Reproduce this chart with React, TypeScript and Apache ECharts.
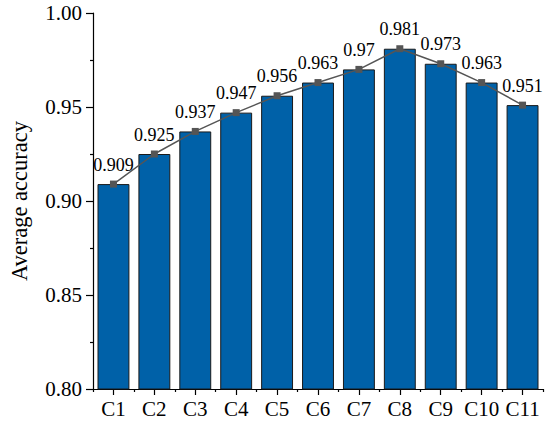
import React, { useEffect, useRef } from "react";
import * as echarts from "echarts";

const categories = ["C1", "C2", "C3", "C4", "C5", "C6", "C7", "C8", "C9", "C10", "C11"];
const accuracy = [0.909, 0.925, 0.937, 0.947, 0.956, 0.963, 0.97, 0.981, 0.973, 0.963, 0.951];
const yTicks = { min: 0.8, max: 1.0, interval: 0.05 };
const yName = "Average accuracy";

const FONT = "'Liberation Serif', 'Times New Roman', serif";

export default function App() {
  const ref = useRef<HTMLDivElement>(null);
  useEffect(() => {
    if (!ref.current) return;
    const chart = echarts.init(ref.current, null, { renderer: "svg" });
    chart.setOption({
      animation: false,
      grid: { left: 81, right: 7, top: 13, bottom: 33 },
      xAxis: [
        {
          type: "category",
          data: categories,
          position: "bottom",
          axisLine: { show: true, lineStyle: { color: "#000", width: 1.2 } },
          axisTick: { show: true, alignWithLabel: true, length: 6, lineStyle: { color: "#000", width: 1.2 } },
          axisLabel: { color: "#000", fontFamily: FONT, fontSize: 21, margin: 9, interval: 0 },
        },
        {
          type: "category",
          data: categories,
          position: "bottom",
          axisLine: { show: false },
          axisTick: { show: true, alignWithLabel: false, interval: 0, length: 3, lineStyle: { color: "#000", width: 1.2 } },
          axisLabel: { show: false },
        },
      ],
      yAxis: {
        type: "value",
        min: yTicks.min,
        max: yTicks.max,
        interval: yTicks.interval,
        name: yName,
        nameLocation: "middle",
        nameGap: 62,
        nameTextStyle: { color: "#000", fontFamily: FONT, fontSize: 22.5 },
        axisLine: { show: true, lineStyle: { color: "#000", width: 1.2 } },
        axisTick: { show: true, length: 7, lineStyle: { color: "#000", width: 1.2 } },
        minorTick: { show: true, splitNumber: 2, length: 3, lineStyle: { color: "#000", width: 1.2 } },
        splitLine: { show: false },
        axisLabel: {
          color: "#000",
          fontFamily: FONT,
          fontSize: 21,
          margin: 11,
          formatter: (v: number) => v.toFixed(2),
        },
      },
      series: [
        {
          type: "bar",
          data: accuracy,
          barCategoryGap: "22%",
          itemStyle: { color: "#0061a8", borderColor: "#1a1a1a", borderWidth: 1 },
        },
        {
          type: "line",
          data: accuracy,
          symbol: "rect",
          symbolSize: 7,
          lineStyle: { color: "#555", width: 1.5 },
          itemStyle: { color: "#555" },
          label: {
            show: true,
            position: "top",
            distance: 7,
            color: "#000",
            fontFamily: FONT,
            fontSize: 18,
            formatter: (p: any) => String(p.value),
          },
        },
      ],
    });
    return () => chart.dispose();
  }, []);
  return (
    <div
      ref={ref}
      style={{ position: "fixed", left: 0, top: 0, width: 550, height: 422, background: "#fff" }}
    />
  );
}
